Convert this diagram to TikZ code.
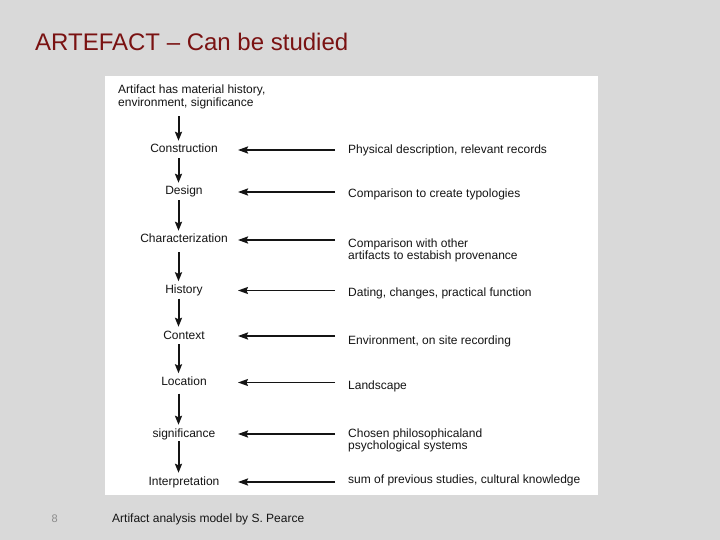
\documentclass[tikz,border=0pt]{standalone}
\usepackage{fontspec}
\setmainfont{Liberation Sans}
\usetikzlibrary{arrows.meta}
\definecolor{bg}{RGB}{217,217,217}
\definecolor{titlered}{RGB}{122,18,18}
\definecolor{ink}{RGB}{20,20,20}
\definecolor{pnum}{RGB}{140,140,140}
\begin{document}
\begin{tikzpicture}[x=1pt,y=-1pt,
  lbl/.style={font=\fontsize{12}{12.5}\selectfont, text=ink, inner sep=0pt},
  stage/.style={lbl, anchor=base, text height=9pt, text depth=3pt},
  note/.style={lbl, anchor=base west, align=left, inner xsep=13pt},
  varrow/.style={draw=ink, line width=2pt, -{Stealth[length=9pt,width=7pt,inset=1.5pt]}, shorten <=2pt, shorten >=3pt},
  harrow/.style={draw=ink, line width=2pt, -{Stealth[length=10pt,width=7pt,inset=1.5pt]}},
  thinarrow/.style={line width=1.1pt}]
\fill[bg] (0,0) rectangle (720,540);
\useasboundingbox (0,0) rectangle (720,540);
\fill[white] (105,76) rectangle (598,495);

\node[anchor=base west, font=\fontsize{24}{28}\selectfont, text=titlered, inner sep=0pt] (title) at (35,51) {ARTEFACT – Can be studied};

\coordinate (dx) at (178.5,0);
\coordinate (tip) at (238,0);

\node[lbl, anchor=north west, align=left] (intro) at (118,85) {Artifact has material history,\\environment, significance};

\node[stage] (s1) at (184,153) {Construction};
\node[stage] (s2) at (184,195) {Design};
\node[stage] (s3) at (184,243) {Characterization};
\node[stage] (s4) at (184,293.5) {History};
\node[stage] (s5) at (184,339) {Context};
\node[stage] (s6) at (184,385.5) {Location};
\node[stage] (s7) at (184,437) {significance};
\node[stage] (s8) at (184,485) {Interpretation};

\node[note] (n1) at (335,154) {Physical description, relevant records};
\node[note] (n2) at (335,197.5) {Comparison to create typologies};
\node[note] (n3) at (335,259.5) {Comparison with other\\artifacts to estabish provenance};
\node[note] (n4) at (335,296.5) {Dating, changes, practical function};
\node[note] (n5) at (335,344.5) {Environment, on site recording};
\node[note] (n6) at (335,389) {Landscape};
\node[note] (n7) at (335,449.5) {Chosen philosophicaland\\psychological systems};
\node[note] (n8) at (335,483.5) {sum of previous studies, cultural knowledge};

\node[anchor=base west, font=\fontsize{11}{13}\selectfont, text=pnum, inner sep=0pt] (pageno) at (51.5,522) {8};
\node[anchor=base west, font=\fontsize{12}{14}\selectfont, text=ink, inner sep=0pt] (caption) at (112,522) {Artifact analysis model by S. Pearce};

\draw[varrow, shorten <=7pt] (intro.south -| dx) -- (s1.north -| dx);
\draw[varrow] (s1.south -| dx) -- (s2.north -| dx);
\draw[varrow] (s2.south -| dx) -- (s3.north -| dx);
\draw[varrow, shorten <=6pt] (s3.south -| dx) -- (s4.north -| dx);
\draw[varrow] (s4.south -| dx) -- (s5.north -| dx);
\draw[varrow] (s5.south -| dx) -- (s6.north -| dx);
\draw[varrow, shorten <=5pt] (s6.south -| dx) -- (s7.north -| dx);
\draw[varrow, shorten <=1pt] (s7.south -| dx) -- (s8.north -| dx);

\draw[harrow] (n1.west |- s1.east) -- (tip |- s1.east);
\draw[harrow] (n2.west |- s2.east) -- (tip |- s2.east);
\draw[harrow] (n3.west |- s3.east) -- (tip |- s3.east);
\draw[harrow, thinarrow] (n4.west |- s4.east) -- (tip |- s4.east);
\draw[harrow] (n5.west |- s5.east) -- (tip |- s5.east);
\draw[harrow, thinarrow] (n6.west |- s6.east) -- (tip |- s6.east);
\draw[harrow] (n7.west |- s7.east) -- (tip |- s7.east);
\draw[harrow] (n8.west |- s8.east) -- (tip |- s8.east);
\end{tikzpicture}
\end{document}
